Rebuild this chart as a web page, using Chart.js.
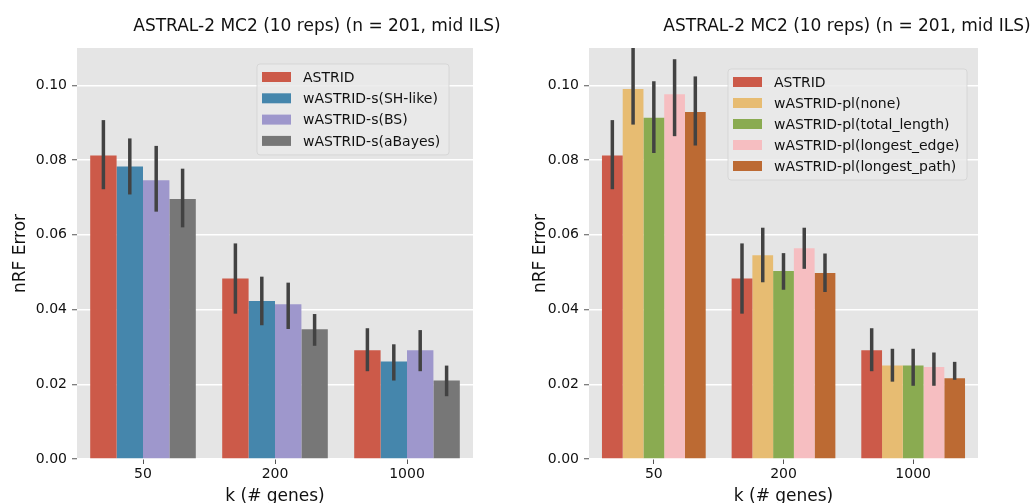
<!DOCTYPE html>
<html lang="en">
<head>
<meta charset="UTF-8">
<title>ASTRAL-2 MC2 nRF error</title>
<script src="https://cdn.jsdelivr.net/npm/chart.js@4.4.0/dist/chart.umd.min.js"></script>
<style>
  body { margin: 0; width: 1035px; height: 503px; overflow: hidden; background: #fff; }
  canvas { position: absolute; top: 0; }
</style>
</head>
<body>
<canvas id="leftChart" width="520" height="511" style="left:0"></canvas>
<canvas id="rightChart" width="515" height="511" style="left:520px"></canvas>

<script>
// k (# genes)
const genes = ['50', '200', '1000'];
const yTicks = [0, 0.02, 0.04, 0.06, 0.08, 0.10];

// mean nRF error and error-bar ends
const astrid      = [0.0812, 0.0483, 0.0291];
const astridLo    = [0.0722, 0.0389, 0.0235];
const astridHi    = [0.0907, 0.0577, 0.0350];

const shLike      = [0.0783, 0.0423, 0.0261];
const shLikeLo    = [0.0708, 0.0358, 0.0210];
const shLikeHi    = [0.0858, 0.0488, 0.0307];

const bs          = [0.0746, 0.0414, 0.0291];
const bsLo        = [0.0662, 0.0348, 0.0235];
const bsHi        = [0.0838, 0.0472, 0.0345];

const aBayes      = [0.0696, 0.0347, 0.0210];
const aBayesLo    = [0.0620, 0.0303, 0.0168];
const aBayesHi    = [0.0777, 0.0388, 0.0250];

const plNone      = [0.0990, 0.0545, 0.0250];
const plNoneLo    = [0.0895, 0.0473, 0.0207];
const plNoneHi    = [0.1110, 0.0619, 0.0295];

const plTotal     = [0.0913, 0.0503, 0.0250];
const plTotalLo   = [0.0819, 0.0453, 0.0196];
const plTotalHi   = [0.1011, 0.0551, 0.0295];

const plEdge      = [0.0976, 0.0564, 0.0246];
const plEdgeLo    = [0.0864, 0.0509, 0.0196];
const plEdgeHi    = [0.1070, 0.0619, 0.0285];

const plPath      = [0.0929, 0.0498, 0.0216];
const plPathLo    = [0.0839, 0.0447, 0.0212];
const plPathHi    = [0.1024, 0.0550, 0.0260];

const title = 'ASTRAL-2 MC2 (10 reps) (n = 201, mid ILS)';

Chart.defaults.font.family = "'DejaVu Sans', sans-serif";
Chart.defaults.color = '#1a1a1a';

// grey panel, error bars, title and legend box
const extras = {
  id: 'extras',
  beforeDraw(chart) {
    const a = chart.chartArea, ctx = chart.ctx;
    ctx.save();
    ctx.fillStyle = '#E5E5E5';
    ctx.fillRect(a.left, a.top, a.right - a.left, a.bottom - a.top);
    ctx.restore();
  },
  afterDatasetsDraw(chart) {
    const a = chart.chartArea, ctx = chart.ctx, y = chart.scales.y;
    ctx.save();
    ctx.beginPath();
    ctx.rect(a.left, a.top, a.right - a.left, a.bottom - a.top);
    ctx.clip();
    ctx.strokeStyle = '#424242';
    ctx.lineWidth = 3.5;
    chart.data.datasets.forEach((ds, i) => {
      chart.getDatasetMeta(i).data.forEach((bar, j) => {
        ctx.beginPath();
        ctx.moveTo(bar.x, y.getPixelForValue(ds.lo[j]));
        ctx.lineTo(bar.x, y.getPixelForValue(ds.hi[j]));
        ctx.stroke();
      });
    });
    ctx.restore();
  },
  afterDraw(chart, args, opts) {
    const ctx = chart.ctx;
    ctx.save();
    ctx.fillStyle = '#111';
    ctx.font = "17px 'DejaVu Sans'";
    ctx.textAlign = 'center';
    ctx.textBaseline = 'alphabetic';
    ctx.fillText(opts.title, opts.titleX, 31);

    const L = opts.legend;
    const n = chart.data.datasets.length;
    const top = L.row0 - 13, bottom = L.row0 + (n - 1) * L.gap + 14;
    ctx.beginPath();
    ctx.roundRect(L.x, top, L.w, bottom - top, 3);
    ctx.fillStyle = 'rgba(234,234,234,0.85)';
    ctx.fill();
    ctx.strokeStyle = 'rgba(210,210,210,0.8)';
    ctx.lineWidth = 1;
    ctx.stroke();

    ctx.font = "14px 'DejaVu Sans'";
    ctx.textAlign = 'left';
    ctx.textBaseline = 'middle';
    chart.data.datasets.forEach((ds, i) => {
      const cy = L.row0 + i * L.gap;
      ctx.fillStyle = ds.backgroundColor;
      ctx.fillRect(L.x + 5, cy - 5, 29, 10);
      ctx.fillStyle = '#111';
      ctx.fillText(ds.label, L.x + 46, cy + 1);
    });
    ctx.restore();
  }
};

function ds(label, color, data, lo, hi) {
  return { label, data, lo, hi, backgroundColor: color, borderWidth: 0,
           categoryPercentage: 0.8, barPercentage: 1.0 };
}

function makeChart(id, datasets, yWidth, padRight, extraOpts) {
  return new Chart(document.getElementById(id), {
    type: 'bar',
    data: { labels: genes, datasets },
    options: {
      responsive: false,
      animation: false,
      layout: { padding: { top: 48, right: padRight, bottom: 0, left: 0 } },
      plugins: {
        legend: { display: false },
        tooltip: { enabled: false },
        extras: extraOpts
      },
      scales: {
        x: {
          afterFit: s => { s.height = 52; },
          grid: { offset: false, drawOnChartArea: false, tickLength: 5, tickColor: '#555', tickWidth: 1 },
          border: { display: false },
          ticks: { padding: 2, font: { size: 14 }, color: '#111' },
          title: { display: true, text: 'k (# genes)', font: { size: 17 }, color: '#111', padding: { top: 0, bottom: 4 } }
        },
        y: {
          min: 0, max: 0.11,
          afterFit: s => { s.width = yWidth; },
          afterBuildTicks: s => { s.ticks = yTicks.map(v => ({ value: v })); },
          grid: { color: '#ffffff', lineWidth: 1.5, tickLength: 5, tickColor: '#555', tickWidth: 1 },
          border: { display: false },
          ticks: { padding: 5, font: { size: 14 }, color: '#111', callback: v => v.toFixed(2) },
          title: { display: true, text: 'nRF Error', font: { size: 17 }, color: '#111', padding: { top: 10, bottom: 0 } }
        }
      }
    },
    plugins: [extras]
  });
}

makeChart('leftChart', [
  ds('ASTRID', '#CC5A49', astrid, astridLo, astridHi),
  ds('wASTRID-s(SH-like)', '#4586AC', shLike, shLikeLo, shLikeHi),
  ds('wASTRID-s(BS)', '#9E97CC', bs, bsLo, bsHi),
  ds('wASTRID-s(aBayes)', '#777777', aBayes, aBayesLo, aBayesHi)
], 77, 47, { title, titleX: 317, legend: { x: 257, w: 192, row0: 77, gap: 21.3 } });

makeChart('rightChart', [
  ds('ASTRID', '#CC5A49', astrid, astridLo, astridHi),
  ds('wASTRID-pl(none)', '#E7BC72', plNone, plNoneLo, plNoneHi),
  ds('wASTRID-pl(total_length)', '#8AAB51', plTotal, plTotalLo, plTotalHi),
  ds('wASTRID-pl(longest_edge)', '#F6BEC1', plEdge, plEdgeLo, plEdgeHi),
  ds('wASTRID-pl(longest_path)', '#BC6A33', plPath, plPathLo, plPathHi)
], 69, 57, { title, titleX: 327, legend: { x: 208, w: 239, row0: 82, gap: 21 } });
</script>
</body>
</html>
